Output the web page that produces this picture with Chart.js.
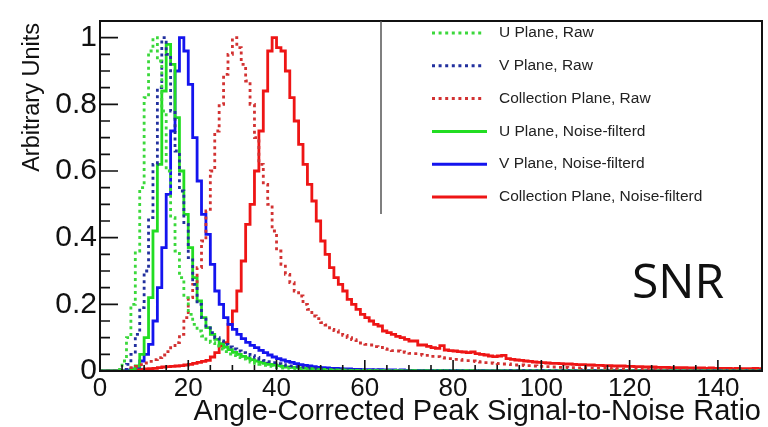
<!DOCTYPE html>
<html>
<head>
<meta charset="utf-8">
<script src="https://cdn.jsdelivr.net/npm/chart.js@4.4.1/dist/chart.umd.min.js"></script>
<style>
  html, body { margin: 0; padding: 0; background: #fff; }
  canvas { display: block; }
</style>
</head>
<body>
<canvas id="snr" width="768" height="427"></canvas>
<script>
/* =====================================================
   SNR histograms – raw vs noise-filtered, 3 planes
===================================================== */

// bins of width 1 starting at 0 (150 bins, 0 -> 150)
const binStart = 0;
const binWidth = 1;

const xTickLabels = [0, 20, 40, 60, 80, 100, 120, 140];
const yTickLabels = [0, 0.2, 0.4, 0.6, 0.8, 1];

const xTitle = 'Angle-Corrected Peak Signal-to-Noise Ratio';
const yTitle = 'Arbitrary Units';

const seriesLabels = [
  "U Plane, Raw", "V Plane, Raw", "Collection Plane, Raw",
  "U Plane, Noise-filterd", "V Plane, Noise-filterd", "Collection Plane, Noise-filterd"
];

// U plane, raw (green dotted)
const uRaw = [
  0, 0, 0, 0, 0.005, 0.03, 0.1, 0.2, 0.36, 0.55,
  0.82, 0.96, 1.0, 0.93, 0.78, 0.6, 0.46, 0.36, 0.28, 0.22,
  0.17, 0.14, 0.12, 0.105, 0.095, 0.085, 0.075, 0.066, 0.058, 0.051,
  0.046, 0.04, 0.036, 0.031, 0.027, 0.023, 0.02, 0.017, 0.014, 0.012,
  0.01, 0.009, 0.008, 0.006, 0.006, 0.005, 0.004, 0.004, 0.003, 0.003,
  0.003, 0.002, 0.002, 0.002, 0.002, 0.001, 0.001, 0.001, 0.001, 0.001,
  0.001, 0, 0.001, 0, 0.001, 0, 0, 0.001, 0, 0,
  0, 0.001, 0, 0, 0, 0, 0.001, 0, 0, 0,
  0, 0, 0, 0.001, 0, 0, 0, 0, 0, 0,
  0, 0, 0, 0, 0, 0, 0, 0, 0, 0,
  0, 0, 0, 0, 0, 0, 0, 0, 0, 0,
  0, 0, 0, 0, 0, 0, 0, 0, 0, 0,
  0, 0, 0, 0, 0, 0, 0, 0, 0, 0,
  0, 0, 0, 0, 0, 0, 0, 0, 0, 0,
  0, 0, 0, 0, 0, 0, 0, 0, 0, 0
];

// V plane, raw (blue dotted)
const vRaw = [
  0, 0, 0, 0, 0, 0.005, 0.02, 0.05, 0.11, 0.19,
  0.3, 0.46, 0.62, 0.85, 1.0, 0.95, 0.78, 0.66, 0.54, 0.44,
  0.34, 0.26, 0.2, 0.16, 0.135, 0.115, 0.1, 0.09, 0.08, 0.072,
  0.066, 0.06, 0.055, 0.05, 0.046, 0.041, 0.036, 0.032, 0.028, 0.025,
  0.022, 0.019, 0.017, 0.015, 0.013, 0.011, 0.01, 0.009, 0.008, 0.007,
  0.006, 0.005, 0.005, 0.004, 0.004, 0.004, 0.003, 0.003, 0.003, 0.002,
  0.002, 0.002, 0.003, 0.002, 0.002, 0.001, 0.002, 0.001, 0.001, 0.002,
  0.001, 0.001, 0.001, 0.002, 0.001, 0.001, 0.001, 0.001, 0.001, 0.001,
  0.001, 0.001, 0, 0.001, 0.001, 0, 0.001, 0, 0.001, 0,
  0.001, 0, 0, 0.001, 0, 0, 0.001, 0, 0, 0,
  0.001, 0, 0, 0, 0, 0.001, 0, 0, 0, 0,
  0, 0, 0.001, 0, 0, 0, 0, 0, 0.001, 0,
  0, 0, 0, 0, 0, 0, 0, 0, 0, 0,
  0, 0, 0, 0, 0, 0, 0, 0, 0, 0,
  0, 0, 0, 0, 0, 0, 0, 0, 0, 0
];

// Collection plane, raw (red dotted)
const cRaw = [
  0, 0, 0, 0, 0, 0.002, 0.005, 0.01, 0.014, 0.019,
  0.024, 0.029, 0.034, 0.04, 0.048, 0.058, 0.07, 0.085, 0.11, 0.16,
  0.22, 0.26, 0.31, 0.39, 0.48, 0.6, 0.72, 0.8, 0.89, 0.95,
  1.0, 0.97, 0.92, 0.87, 0.8, 0.7, 0.62, 0.56, 0.5, 0.42,
  0.36, 0.32, 0.29, 0.265, 0.24, 0.225, 0.2, 0.185, 0.165, 0.157,
  0.145, 0.138, 0.125, 0.121, 0.11, 0.107, 0.1, 0.094, 0.091, 0.084,
  0.08, 0.078, 0.073, 0.071, 0.066, 0.065, 0.061, 0.06, 0.057, 0.056,
  0.053, 0.052, 0.05, 0.047, 0.047, 0.044, 0.043, 0.04, 0.039, 0.037,
  0.035, 0.035, 0.032, 0.031, 0.03, 0.028, 0.027, 0.025, 0.024, 0.023,
  0.022, 0.021, 0.021, 0.019, 0.018, 0.018, 0.016, 0.016, 0.015, 0.014,
  0.014, 0.013, 0.012, 0.012, 0.011, 0.011, 0.01, 0.01, 0.009, 0.01,
  0.009, 0.009, 0.008, 0.008, 0.008, 0.007, 0.008, 0.007, 0.006, 0.007,
  0.006, 0.006, 0.005, 0.006, 0.005, 0.005, 0.004, 0.005, 0.004, 0.004,
  0.004, 0.003, 0.004, 0.003, 0.003, 0.003, 0.003, 0.002, 0.003, 0.002,
  0.002, 0.003, 0.002, 0.002, 0.002, 0.002, 0.002, 0.001, 0.002, 0.002
];

// U plane, noise-filtered (green solid)
const uFilt = [
  0, 0, 0, 0, 0, 0, 0, 0.005, 0.015, 0.05,
  0.1, 0.22, 0.42, 0.62, 0.84, 0.98, 0.92, 0.76, 0.6, 0.47,
  0.37, 0.28, 0.21, 0.16, 0.13, 0.11, 0.095, 0.082, 0.072, 0.064,
  0.056, 0.05, 0.044, 0.039, 0.034, 0.03, 0.026, 0.023, 0.02, 0.018,
  0.016, 0.014, 0.012, 0.011, 0.01, 0.009, 0.008, 0.007, 0.006, 0.005,
  0.005, 0.004, 0.004, 0.003, 0.003, 0.003, 0.002, 0.002, 0.002, 0.002,
  0.001, 0.002, 0.001, 0.001, 0.001, 0.001, 0, 0.001, 0.001, 0,
  0.001, 0, 0, 0.001, 0, 0, 0, 0.001, 0, 0,
  0, 0, 0, 0, 0.001, 0, 0, 0, 0, 0,
  0, 0, 0, 0, 0, 0, 0, 0, 0, 0,
  0, 0, 0, 0, 0, 0, 0, 0, 0, 0,
  0, 0, 0, 0, 0, 0, 0, 0, 0, 0,
  0, 0, 0, 0, 0, 0, 0, 0, 0, 0,
  0, 0, 0, 0, 0, 0, 0, 0, 0, 0,
  0, 0, 0, 0, 0, 0, 0, 0, 0, 0
];

// V plane, noise-filtered (blue solid)
const vFilt = [
  0, 0, 0, 0, 0, 0, 0.003, 0.006, 0.012, 0.03,
  0.05, 0.08, 0.15, 0.25, 0.37, 0.53, 0.72, 0.9, 1.0, 0.96,
  0.86, 0.7, 0.57, 0.47, 0.41, 0.32, 0.24, 0.2, 0.16, 0.14,
  0.125, 0.11, 0.097, 0.086, 0.077, 0.07, 0.062, 0.055, 0.048, 0.042,
  0.037, 0.033, 0.029, 0.026, 0.022, 0.019, 0.017, 0.015, 0.013, 0.011,
  0.01, 0.009, 0.008, 0.008, 0.007, 0.006, 0.006, 0.005, 0.005, 0.004,
  0.004, 0.004, 0.003, 0.004, 0.003, 0.003, 0.003, 0.002, 0.003, 0.002,
  0.002, 0.002, 0.002, 0.002, 0.001, 0.002, 0.002, 0.001, 0.002, 0.001,
  0.001, 0.002, 0.001, 0.001, 0.001, 0.001, 0.002, 0.001, 0.001, 0.001,
  0.001, 0.001, 0.001, 0.001, 0.001, 0.001, 0.001, 0.001, 0.001, 0.001,
  0.001, 0.001, 0.001, 0.001, 0.001, 0.001, 0.001, 0.001, 0.001, 0.001,
  0.001, 0.001, 0.001, 0.001, 0.001, 0.001, 0.001, 0.001, 0.001, 0.001,
  0.001, 0.001, 0.001, 0.001, 0.001, 0.001, 0.001, 0.001, 0.001, 0.001,
  0.001, 0.001, 0.001, 0.001, 0.001, 0.001, 0.001, 0.001, 0.001, 0.001,
  0.001, 0.001, 0.001, 0.001, 0.001, 0.001, 0.001, 0.001, 0.001, 0.001
];

// Collection plane, noise-filtered (red solid)
const cFilt = [
  0, 0, 0, 0, 0, 0, 0.002, 0.003, 0.004, 0.005,
  0.006, 0.007, 0.008, 0.01, 0.012, 0.013, 0.014, 0.015, 0.016, 0.018,
  0.02, 0.023, 0.026, 0.029, 0.032, 0.042, 0.055, 0.075, 0.085, 0.14,
  0.18, 0.24, 0.33, 0.44, 0.5, 0.6, 0.72, 0.84, 0.96, 1.0,
  0.97, 0.96, 0.9, 0.82, 0.75, 0.68, 0.62, 0.56, 0.51, 0.45,
  0.39, 0.35, 0.31, 0.28, 0.26, 0.24, 0.215, 0.2, 0.185, 0.17,
  0.16, 0.15, 0.14, 0.135, 0.12, 0.115, 0.11, 0.104, 0.1, 0.095,
  0.09, 0.09, 0.078, 0.078, 0.074, 0.07, 0.068, 0.076, 0.063, 0.061,
  0.06, 0.058, 0.057, 0.055, 0.057, 0.052, 0.05, 0.048, 0.045, 0.043,
  0.045, 0.047, 0.037, 0.035, 0.033, 0.032, 0.03, 0.029, 0.027, 0.026,
  0.025, 0.024, 0.023, 0.023, 0.022, 0.021, 0.021, 0.02, 0.019, 0.019,
  0.018, 0.018, 0.017, 0.017, 0.016, 0.016, 0.015, 0.015, 0.015, 0.014,
  0.014, 0.013, 0.013, 0.012, 0.012, 0.012, 0.011, 0.011, 0.011, 0.01,
  0.01, 0.01, 0.01, 0.009, 0.009, 0.009, 0.009, 0.008, 0.009, 0.008,
  0.008, 0.008, 0.008, 0.007, 0.008, 0.007, 0.007, 0.007, 0.008, 0.007
];

const seriesValues = [uRaw, vRaw, cRaw, uFilt, vFilt, cFilt];
const seriesColors = ["#3bd83b", "#22309e", "#d23232", "#22dd22", "#1414ee", "#ee1515"];
const seriesDotted = [true, true, true, false, false, false];

const FONT = '"Liberation Sans", Arial, Helvetica, sans-serif';

// histogram -> points at bin low edges, last value repeated at the upper edge
function toSteps(vals) {
  const pts = vals.map((v, i) => ({ x: binStart + i * binWidth, y: v }));
  pts.push({ x: binStart + vals.length * binWidth, y: vals[vals.length - 1] });
  return pts;
}

// =========================
// ROOT-like frame, inward ticks, titles
// =========================
const frameAndTicks = {
  id: 'frameAndTicks',
  afterDatasetsDraw(chart) {
    const { ctx, chartArea: a, scales: { x, y } } = chart;
    ctx.save();
    ctx.strokeStyle = '#111';
    ctx.lineWidth = 1.6;
    ctx.beginPath();
    for (let v = 0; v <= 150; v += 5) {
      const px = x.getPixelForValue(v);
      const len = v % 20 === 0 ? 11 : 6;
      ctx.moveTo(px, a.bottom);
      ctx.lineTo(px, a.bottom - len);
    }
    for (let k = 0; k <= 20; k++) {
      const py = y.getPixelForValue(k * 0.05);
      const len = k % 4 === 0 ? 18 : 10;
      ctx.moveTo(a.left, py);
      ctx.lineTo(a.left + len, py);
    }
    ctx.stroke();
    ctx.lineWidth = 2;
    ctx.strokeRect(a.left, a.top, a.right - a.left, a.bottom - a.top);

    // axis titles, ROOT style: aligned to the far end of the axis
    ctx.fillStyle = '#111';
    ctx.font = '29px ' + FONT;
    ctx.textAlign = 'right';
    ctx.textBaseline = 'alphabetic';
    ctx.fillText(xTitle, a.right - 1, 420);

    ctx.save();
    ctx.translate(33, a.top + 2);
    ctx.rotate(-Math.PI / 2);
    ctx.font = '23.5px ' + FONT;
    ctx.textBaseline = 'middle';
    ctx.fillText(yTitle, 0, 0);
    ctx.restore();
    ctx.restore();
  }
};

// =========================
// Legend + SNR label
// =========================
const histLegend = {
  id: 'histLegend',
  afterDraw(chart) {
    const { ctx } = chart;
    ctx.save();
    ctx.strokeStyle = '#555';
    ctx.lineWidth = 1.5;
    ctx.beginPath();
    ctx.moveTo(381, chart.chartArea.top);
    ctx.lineTo(381, 214);
    ctx.stroke();

    ctx.font = '15.5px ' + FONT;
    ctx.textBaseline = 'middle';
    ctx.textAlign = 'left';
    chart.data.datasets.forEach((ds, i) => {
      const yy = 33 + i * 32.8;
      const dotted = ds.borderDash && ds.borderDash.length;
      ctx.strokeStyle = ds.borderColor;
      ctx.lineWidth = 3;
      ctx.setLineDash(dotted ? ds.borderDash : []);
      ctx.beginPath();
      ctx.moveTo(432, yy);
      ctx.lineTo(dotted ? 484 : 487, yy);
      ctx.stroke();
      ctx.setLineDash([]);
      ctx.fillStyle = '#222';
      ctx.fillText(ds.label, 499, yy);
    });

    ctx.font = '48px "Open Sans", sans-serif';
    ctx.fillStyle = '#111';
    ctx.textAlign = 'center';
    ctx.textBaseline = 'alphabetic';
    ctx.fillText('SNR', 678, 298);
    ctx.restore();
  }
};

new Chart(document.getElementById('snr'), {
  type: 'line',
  data: {
    datasets: seriesValues.map((vals, i) => ({
      label: seriesLabels[i],
      data: toSteps(vals),
      borderColor: seriesColors[i],
      borderWidth: 2.8,
      borderDash: seriesDotted[i] ? [3, 3.6] : [],
      stepped: 'before',
      fill: false,
      pointRadius: 0
    }))
  },
  options: {
    responsive: false,
    animation: false,
    layout: { padding: { top: 8, right: 6, left: 0, bottom: 0 } },
    plugins: { legend: { display: false }, tooltip: { enabled: false } },
    scales: {
      x: {
        type: 'linear',
        min: 0,
        max: 150,
        grid: { display: false, drawTicks: false },
        border: { display: false },
        afterBuildTicks: s => { s.ticks = xTickLabels.map(v => ({ value: v })); },
        afterFit: s => { s.height = 56; },
        ticks: {
          autoSkip: false, maxRotation: 0, padding: 2, color: '#111',
          font: { family: FONT, size: 26 },
          callback: v => String(v)
        }
      },
      y: {
        type: 'linear',
        min: 0,
        max: 1.05,
        grid: { display: false, drawTicks: false },
        border: { display: false },
        afterBuildTicks: s => { s.ticks = yTickLabels.map(v => ({ value: v })); },
        afterFit: s => { s.width = 100; },
        ticks: {
          autoSkip: false, padding: 3, color: '#111',
          font: { family: FONT, size: 30 },
          callback: v => String(v)
        }
      }
    }
  },
  plugins: [frameAndTicks, histLegend]
});
</script>
</body>
</html>
